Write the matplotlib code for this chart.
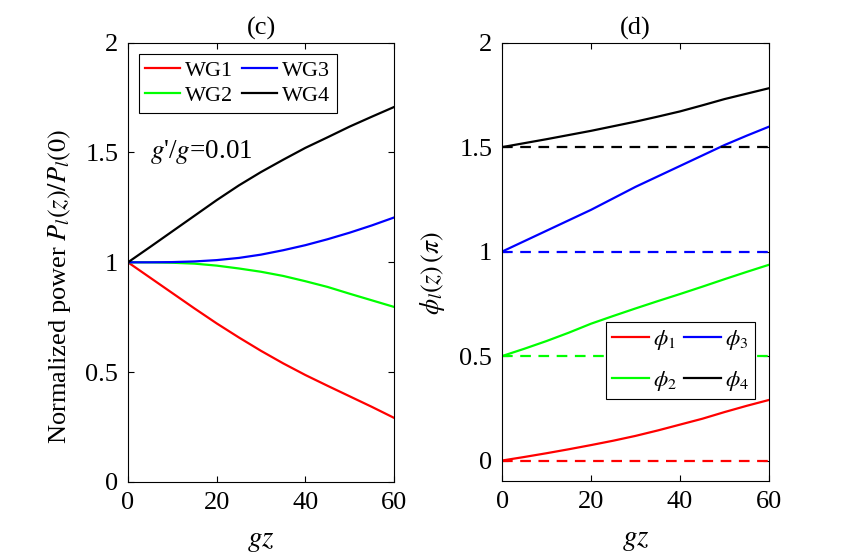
import matplotlib
matplotlib.use('Agg')
import matplotlib.pyplot as plt

plt.rcParams['font.family'] = ['Liberation Serif', 'DejaVu Serif']
plt.rcParams['mathtext.fontset'] = 'stix'

# data
gz = [0, 5, 10, 15, 20, 25, 30, 35, 40, 45, 50, 55, 60]

# (c) normalized power
wg1 = [1.0, 0.93, 0.86, 0.79, 0.722, 0.658, 0.597, 0.54, 0.487, 0.438, 0.39, 0.342, 0.292]
wg2 = [1.0, 1.0, 0.998, 0.994, 0.985, 0.972, 0.957, 0.938, 0.914, 0.888, 0.857, 0.827, 0.797]
wg3 = [1.0, 1.0, 1.001, 1.004, 1.01, 1.02, 1.035, 1.055, 1.078, 1.105, 1.135, 1.168, 1.204]
wg4 = [1.0, 1.07, 1.141, 1.212, 1.283, 1.35, 1.411, 1.467, 1.521, 1.569, 1.618, 1.663, 1.707]

# (d) phases in units of pi
phi1 = [0.0, 0.017, 0.035, 0.054, 0.074, 0.095, 0.118, 0.144, 0.172, 0.2, 0.232, 0.262, 0.29]
phi2 = [0.5, 0.535, 0.572, 0.612, 0.655, 0.692, 0.728, 0.763, 0.797, 0.832, 0.868, 0.903, 0.937]
phi3 = [1.0, 1.05, 1.1, 1.15, 1.2, 1.255, 1.31, 1.36, 1.41, 1.46, 1.51, 1.555, 1.598]
phi4 = [1.5, 1.519, 1.538, 1.558, 1.578, 1.6, 1.622, 1.646, 1.671, 1.7, 1.73, 1.756, 1.782]
phi_ref = [0.0, 0.5, 1.0, 1.5]

colores = ['#ff0000', '#00ff00', '#0000ff', '#000000']
dash = (0, (4.8, 3.4))

fig = plt.figure(figsize=(8.51, 5.54), dpi=100)
ax1 = fig.add_axes([0.1504, 0.130, 0.3126, 0.793])
ax2 = fig.add_axes([0.590, 0.131, 0.3137, 0.792])

# panel (c)
for serie, c, nombre in zip([wg1, wg2, wg3, wg4], colores, ['WG1', 'WG2', 'WG3', 'WG4']):
    ax1.plot(gz, serie, color=c, lw=1.6, label=nombre)
ax1.set_xlim(0, 60)
ax1.set_ylim(0, 2)
ax1.set_xticks([0, 20, 40, 60])
ax1.set_yticks([0, 0.5, 1, 1.5, 2])
ax1.set_yticklabels(['0', '0.5', '1', '1.5', '2'])
ax1.set_xlabel(r'$gz$', fontsize=21, labelpad=10)
ax1.set_ylabel(r'Normalized power $P_l(z)/P_l(0)$', fontsize=19, labelpad=9)
ax1.yaxis.label.set_y(0.445)
ax1.set_title('(c)', fontsize=19, pad=6)
ax1.text(5.0, 1.477, "$g$'/$g$=0.01", fontsize=19.5, va='baseline', ha='left')
leg1 = ax1.legend(ncol=2, loc='upper left', bbox_to_anchor=(0.04, 0.975), fontsize=16,
                  fancybox=False, edgecolor='black', framealpha=1,
                  handlelength=1.55, handletextpad=0.25, columnspacing=0.4,
                  borderpad=0.3, labelspacing=0.2, borderaxespad=0)
leg1.get_frame().set_linewidth(0.8)

# panel (d)
for serie, ref, c, nombre in zip([phi1, phi2, phi3, phi4], phi_ref, colores,
                                 [r'$\phi_1$', r'$\phi_2$', r'$\phi_3$', r'$\phi_4$']):
    ax2.plot(gz, serie, color=c, lw=1.6, label=nombre)
    ax2.plot([gz[0], gz[-1]], [ref, ref], color=c, lw=1.6, linestyle=dash)
ax2.set_xlim(0, 60)
ax2.set_ylim(-0.1, 2)
ax2.set_xticks([0, 20, 40, 60])
ax2.set_yticks([0, 0.5, 1, 1.5, 2])
ax2.set_yticklabels(['0', '0.5', '1', '1.5', '2'])
ax2.set_xlabel(r'$gz$', fontsize=21, labelpad=10)
ax2.set_ylabel(r'$\phi_l(z)\,(\pi)$', fontsize=18.5, labelpad=9)
ax2.yaxis.label.set_y(0.475)
ax2.set_title('(d)', fontsize=19, pad=6)
lineas = [l for l in ax2.get_lines() if l.get_label().startswith('$')]
leg2 = ax2.legend(lineas, [l.get_label() for l in lineas], ncol=2, loc='lower right',
                  bbox_to_anchor=(0.948, 0.188), fontsize=16.5,
                  fancybox=False, edgecolor='black', framealpha=1,
                  handlelength=1.6, handletextpad=0.2, columnspacing=0.3,
                  borderpad=0.25, labelspacing=0.75, borderaxespad=0)
leg2.get_frame().set_linewidth(0.8)

for ax in [ax1, ax2]:
    ax.tick_params(direction='in', top=True, right=True, length=4, width=0.8,
                   labelsize=19, pad=7)
    for s in ax.spines.values():
        s.set_linewidth(0.8)

fig.savefig('out.png', dpi=100)
